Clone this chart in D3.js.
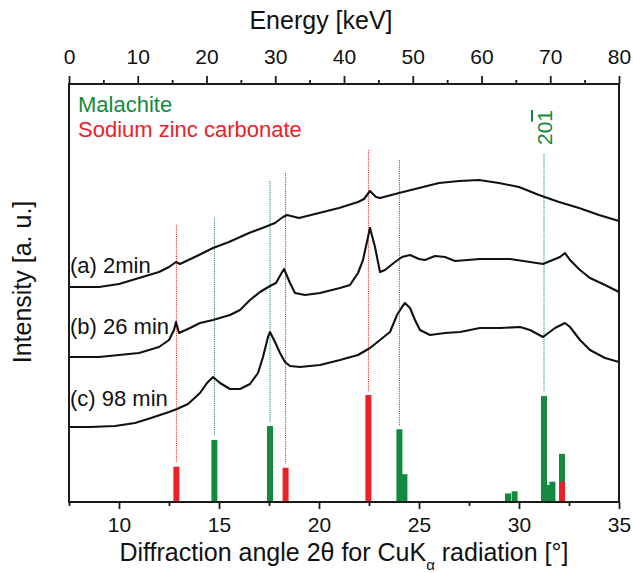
<!DOCTYPE html>
<html>
<head>
<meta charset="utf-8">
<script src="https://cdn.jsdelivr.net/npm/d3@7"></script>
<style>
  html, body { margin: 0; padding: 0; background: #fff; }
  svg { display: block; font-family: "Liberation Sans", Arial, sans-serif; }
</style>
</head>
<body>
<svg id="chart" width="633" height="573"></svg>
<script>
// ---------------- DATA ----------------
// Diffraction angle 2θ [°] axis ticks
const angleTicks = [10, 15, 20, 25, 30, 35];
const angleMinorTicks = [7.5, 12.5, 17.5, 22.5, 27.5, 32.5];
// Energy [keV] axis ticks
const energyTicks = [0, 10, 20, 30, 40, 50, 60, 70, 80];
const energyMinorTicks = [5, 15, 25, 35, 45, 55, 65, 75];

// XRD patterns: [2θ, intensity (a.u., offset stacked)]
const curveA_2min = [
  [7.5,215],[9,215],[10,218],[11,224],[12,230],[12.5,235],[12.85,240],[13.05,238],
  [14,247],[14.7,254],[15.5,260],[16.5,269],[17.3,275],[17.8,279],[18.2,285],[18.4,287],
  [19,284],[20,289],[21,294],[21.95,300],[22.25,303],[22.55,311],[22.85,305],[23.05,304],
  [24,309],[25,314],[26,319],[27,321],[28,322],[29,319],[30,315],[31,307],[32,300],
  [33,294],[34,287],[35,281]
];
const curveB_26min = [
  [7.5,145],[9,145],[10,147],[11,149],[12,155],[12.5,162],[12.75,172],[12.85,180],[13.0,169],
  [13.55,174],[14.05,179],[14.7,182],[15.55,187],[16.05,192],[16.55,202],[17.05,210],
  [17.55,216],[17.85,219],[18.1,228],[18.25,233],[18.55,219],[18.8,209],[19.3,207],
  [20.05,209],[21.05,214],[21.55,217],[21.95,229],[22.2,242],[22.45,265],[22.55,274],
  [22.8,255],[23.05,230],[23.3,232],[23.8,240],[24.15,245],[24.55,247],[25.0,243],[25.3,242],
  [25.8,246],[26.3,245],[26.8,241],[28.05,243],[29.55,243],[30.55,240],[31.2,238],[32.05,245],
  [32.3,249],[32.55,242],[33.05,232],[33.55,224],[34.3,217],[35,210]
];
const curveC_98min = [
  [7.5,75],[8.55,75],[9.8,76],[10.8,79],[11.6,84],[12.5,90],[12.9,93],[13.45,98],
  [14.05,109],[14.4,119],[14.7,125],[15.05,119],[15.55,113],[16.05,113],[16.55,118],
  [16.95,129],[17.2,145],[17.45,165],[17.55,170],[17.8,160],[18.05,149],[18.3,140],
  [18.55,136],[19.05,135],[20.05,137],[21.05,142],[21.95,147],[22.55,154],[23.05,162],
  [23.55,170],[23.9,187],[24.15,195],[24.3,199],[24.55,194],[24.8,182],[25.05,172],
  [25.55,167],[26.3,169],[27.05,170],[28.05,174],[29.05,174],[30.05,175],[30.55,172],
  [31.2,165],[31.8,174],[32.3,179],[32.55,175],[33.05,162],[33.55,152],[34.3,144],[35,140]
];
const curveNames = ["(a) 2min", "(b) 26 min", "(c) 98 min"];
const curveLabelLevels = [229, 168, 96]; // a.u. level of label baselines

// Reference reflections: [2θ, relative intensity]
const malachitePeaks = [
  [14.77,58],[17.55,71],[24.02,68],[24.27,26],[29.45,8],[29.78,10],
  [31.25,99],[31.52,16],[31.67,19],[32.15,45]
];
const sodiumZincCarbonatePeaks = [
  [12.87,33],[18.33,32],[22.47,100],[32.15,19]
];
// Dotted guide lines: [2θ, top level (a.u. of pattern scale)]
const malachiteGuides = [[14.77,284],[17.55,321],[24.02,342],[31.25,348]];
const sodiumGuides = [[12.87,277],[18.33,329],[22.47,352]];
const malachiteHkl = { angle: 31.25, h: "20", hbar: "1" };

const legendNames = ["Malachite", "Sodium zinc carbonate"];

// ---------------- LAYOUT ----------------
const W = 633, H = 573;
const L = 69, R = 619, T = 84, B = 502;
const green = "#138a40", red = "#ec2127", ink = "#1a1a1a";
const FONT = "'Liberation Sans', Arial, sans-serif";

const svg = d3.select("#chart");

const x = d3.scaleLinear().domain([7.5, 35]).range([L, R]);
const xE = d3.scaleLinear().domain([0, 80]).range([L, R]);
const y = d3.scaleLinear().domain([0, B - T]).range([B, T]);
const yBar = d3.scaleLinear().domain([0, 100]).range([0, 107]);

// ---------------- BARS ----------------
const barW = 6;
const barG = svg.append("g");
barG.selectAll("rect.mal").data(malachitePeaks).join("rect")
  .attr("class", "mal")
  .attr("x", d => x(d[0]) - barW / 2)
  .attr("y", d => B - yBar(d[1]))
  .attr("width", barW)
  .attr("height", d => yBar(d[1]))
  .attr("fill", green);
barG.selectAll("rect.szc").data(sodiumZincCarbonatePeaks).join("rect")
  .attr("class", "szc")
  .attr("x", d => x(d[0]) - barW / 2)
  .attr("y", d => B - yBar(d[1]))
  .attr("width", barW)
  .attr("height", d => yBar(d[1]))
  .attr("fill", red);

// ---------------- GUIDES ----------------
function barTop(peaks, a) {
  const p = peaks.find(q => Math.abs(q[0] - a) < 1e-6);
  return B - yBar(p[1]);
}
const guideG = svg.append("g");
guideG.selectAll("line.mg").data(malachiteGuides).join("line")
  .attr("x1", d => x(d[0])).attr("x2", d => x(d[0]))
  .attr("y1", d => y(d[1]))
  .attr("y2", d => barTop(malachitePeaks, d[0]) - 4)
  .attr("stroke", green).attr("stroke-width", 1).attr("stroke-dasharray", "1.2,1");
guideG.selectAll("line.sg").data(sodiumGuides).join("line")
  .attr("x1", d => x(d[0])).attr("x2", d => x(d[0]))
  .attr("y1", d => y(d[1]))
  .attr("y2", d => barTop(sodiumZincCarbonatePeaks, d[0]) - 4)
  .attr("stroke", red).attr("stroke-width", 1).attr("stroke-dasharray", "1.2,1");

// ---------------- CURVES ----------------
const line = d3.line().x(d => x(d[0])).y(d => y(d[1])).curve(d3.curveLinear);
[curveA_2min, curveB_26min, curveC_98min].forEach(c => {
  svg.append("path").datum(c)
    .attr("d", line)
    .attr("fill", "none")
    .attr("stroke", "#111")
    .attr("stroke-width", 2.1)
    .attr("stroke-linejoin", "round");
});

// curve labels
svg.append("g").selectAll("text").data(curveNames).join("text")
  .attr("x", L + 1)
  .attr("y", (d, i) => y(curveLabelLevels[i]))
  .attr("font-size", 22)
  .attr("font-family", FONT)
  .attr("fill", "#111")
  .text(d => d);

// ---------------- AXES ----------------
const axB = svg.append("g").attr("transform", `translate(0,${B})`)
  .call(d3.axisBottom(x).tickValues(angleTicks).tickSize(7).tickPadding(8).tickFormat(d3.format("d")));
const axBm = svg.append("g").attr("transform", `translate(0,${B})`)
  .call(d3.axisBottom(x).tickValues(angleMinorTicks).tickSize(4).tickFormat(""));
const axT = svg.append("g").attr("transform", `translate(0,${T})`)
  .call(d3.axisTop(xE).tickValues(energyTicks).tickSize(8).tickPadding(12).tickFormat(d3.format("d")));
const axTm = svg.append("g").attr("transform", `translate(0,${T})`)
  .call(d3.axisTop(xE).tickValues(energyMinorTicks).tickSize(4).tickFormat(""));
[axB, axBm, axT, axTm].forEach(g => {
  g.select(".domain").remove();
  g.selectAll(".tick line").attr("stroke", ink).attr("stroke-width", 1.8);
  g.selectAll("text").attr("font-size", 21).attr("font-family", FONT).attr("fill", "#111");
});

// frame
svg.append("rect")
  .attr("x", L).attr("y", T).attr("width", R - L).attr("height", B - T)
  .attr("fill", "none").attr("stroke", ink).attr("stroke-width", 2);

// ---------------- TITLES ----------------
svg.append("text")
  .attr("x", 321).attr("y", 29)
  .attr("text-anchor", "middle")
  .attr("font-size", 25).attr("font-family", FONT).attr("fill", "#111")
  .text("Energy [keV]");

const xt = svg.append("text")
  .attr("x", (L + R) / 2).attr("y", 561)
  .attr("text-anchor", "middle")
  .attr("font-size", 25).attr("font-family", FONT).attr("fill", "#111");
xt.append("tspan").text("Diffraction angle 2θ for CuK");
xt.append("tspan").attr("font-size", 15).attr("dy", 9).text("α");
xt.append("tspan").attr("dy", -9).text(" radiation [°]");

svg.append("text")
  .attr("transform", `translate(31,${282}) rotate(-90)`)
  .attr("text-anchor", "middle")
  .attr("font-size", 25).attr("font-family", FONT).attr("fill", "#111")
  .text("Intensity [a. u.]");

// legend
svg.append("g").selectAll("text").data(legendNames).join("text")
  .attr("x", L + 9)
  .attr("y", (d, i) => 112 + i * 25)
  .attr("font-size", 22).attr("font-family", FONT)
  .attr("fill", (d, i) => i === 0 ? green : red)
  .text(d => d);

// hkl label
const hkl = svg.append("text")
  .attr("transform", `translate(${x(malachiteHkl.angle) + 8},145) rotate(-90)`)
  .attr("font-size", 21).attr("font-family", FONT).attr("fill", green);
hkl.append("tspan").text(malachiteHkl.h);
hkl.append("tspan").attr("text-decoration", "overline").style("text-decoration", "overline").text(malachiteHkl.hbar);
</script>
</body>
</html>
